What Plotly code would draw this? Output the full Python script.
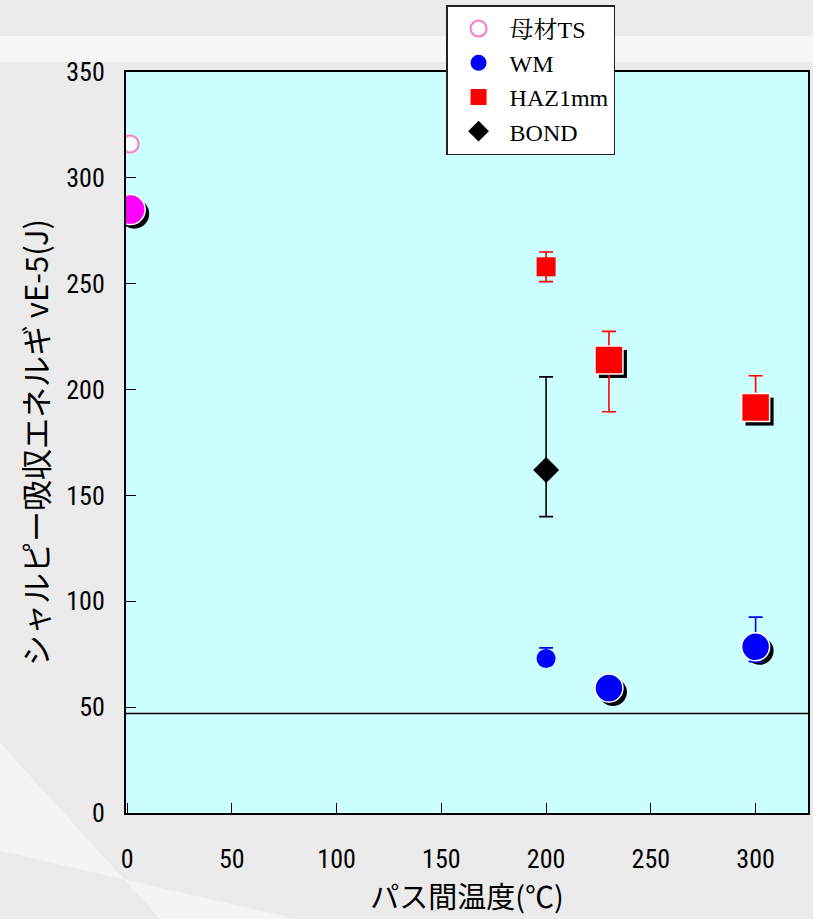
import plotly.graph_objects as go

# ---- data ----
ts_x = [1.5]
ts_y = [316]
ts_mean_x = [1.5]
ts_mean_y = [285]

wm_small_x = [200]
wm_small_y = [73]
wm_small_up = [5]
wm_small_dn = [0]
wm_big_x = [230, 300]
wm_big_y = [59, 78.5]
wm_big_up = [0, 14]
wm_big_dn = [0, 7]

haz_small_x = [200]
haz_small_y = [258]
haz_small_up = [7]
haz_small_dn = [7]
haz_big_x = [230, 300]
haz_big_y = [214, 191.5]
haz_big_up = [13.5, 15]
haz_big_dn = [24.5, 0]

bond_x = [200]
bond_y = [162]
bond_up = [44]
bond_dn = [22]

limit_y = 47

x_ticks = [0, 50, 100, 150, 200, 250, 300]
y_ticks = [0, 50, 100, 150, 200, 250, 300, 350]

SHX, SHY = 1.9, -1.9  # shadow offset in data units

fig = go.Figure()

def shadow(xs, ys, symbol, size):
    fig.add_trace(go.Scatter(
        x=[v + SHX for v in xs], y=[v + SHY for v in ys], mode="markers",
        marker=dict(symbol=symbol, size=size, color="black", line=dict(width=0)),
        showlegend=False, hoverinfo="skip"))

# shadows
shadow(ts_mean_x, ts_mean_y, "circle", 30)
shadow(wm_big_x, wm_big_y, "circle", 28)
shadow(haz_big_x, haz_big_y, "square", 28)

def errs(up, dn, color):
    return dict(type="data", symmetric=False, array=up, arrayminus=dn,
                color=color, thickness=1.6, width=7)

# BOND
fig.add_trace(go.Scatter(
    x=bond_x, y=bond_y, mode="markers", name="BOND",
    marker=dict(symbol="diamond", size=20, color="black"),
    error_y=errs(bond_up, bond_dn, "black")))

# HAZ
fig.add_trace(go.Scatter(
    x=haz_small_x, y=haz_small_y, mode="markers", name="HAZ1mm",
    marker=dict(symbol="square", size=19, color="red", line=dict(width=0)),
    error_y=errs(haz_small_up, haz_small_dn, "red")))
fig.add_trace(go.Scatter(
    x=haz_big_x, y=haz_big_y, mode="markers", name="HAZ1mm", showlegend=False,
    marker=dict(symbol="square", size=28, color="red", line=dict(width=1.5, color="white")),
    error_y=errs(haz_big_up, haz_big_dn, "red")))

# WM
fig.add_trace(go.Scatter(
    x=wm_small_x, y=wm_small_y, mode="markers", name="WM",
    marker=dict(symbol="circle", size=19, color="blue", line=dict(width=0)),
    error_y=errs(wm_small_up, wm_small_dn, "blue")))
fig.add_trace(go.Scatter(
    x=wm_big_x, y=wm_big_y, mode="markers", name="WM", showlegend=False,
    marker=dict(symbol="circle", size=28, color="blue", line=dict(width=1.5, color="white")),
    error_y=errs(wm_big_up, wm_big_dn, "blue")))

# base metal
fig.add_trace(go.Scatter(
    x=ts_mean_x, y=ts_mean_y, mode="markers", showlegend=False,
    marker=dict(symbol="circle", size=30, color="#ff00ff", line=dict(width=1.5, color="white"))))
fig.add_trace(go.Scatter(
    x=ts_x, y=ts_y, mode="markers", name="母材TS",
    marker=dict(symbol="circle", size=17, color="white", line=dict(width=2, color="#ff77cc"))))

# reference line
fig.add_shape(type="line", xref="paper", x0=0, x1=1, yref="y", y0=limit_y, y1=limit_y,
              line=dict(color="black", width=1.5))

# background decorations (paper)
fig.add_shape(type="rect", xref="paper", yref="paper", x0=-0.2, x1=1.1,
              y0=1 + (72 - 62) / 741, y1=1 + (72 - 36) / 741,
              fillcolor="#f6f6f6", line=dict(width=0), layer="below")
fig.add_shape(type="path", xref="paper", yref="paper",
              path="M -0.19,-0.05 L 0.25,-0.143 L 0.05,-0.143 L -0.19,0.1 Z",
              fillcolor="#f4f4f4", line=dict(width=0), layer="below")

tickfont = dict(family="Liberation Sans Narrow, Roboto Condensed, Arial Narrow, Liberation Sans, sans-serif",
                size=26, color="black")
titlefont_y = dict(family="Noto Sans CJK JP, sans-serif", size=31, color="black")
titlefont_x = dict(family="Noto Sans CJK JP, sans-serif", size=29, color="black")

fig.update_layout(
    width=813, height=919,
    margin=dict(l=126, r=3, t=72, b=106),
    paper_bgcolor="#ebebeb",
    plot_bgcolor="#ccffff",
    showlegend=True,
    legend=dict(
        x=(447 - 126) / 684, y=1 + (72 - 5) / 741, xanchor="left", yanchor="top",
        bgcolor="white", bordercolor="#222", borderwidth=1.5,
        font=dict(family="Liberation Serif, Times New Roman, Noto Serif CJK JP, serif", size=24, color="black"),
        traceorder="reversed", itemwidth=52, tracegroupgap=0,
    ),
    xaxis=dict(
        range=[-0.5, 325], tickvals=x_ticks, ticktext=[str(v) for v in x_ticks],
        ticks="inside", ticklen=10, tickwidth=1, tickcolor="black",
        showline=True, linecolor="black", linewidth=2, mirror=True,
        showgrid=False, zeroline=False, tickfont=tickfont, ticklabelstandoff=22,
        title=dict(text="パス間温度(℃)", font=titlefont_x, standoff=9),
    ),
    yaxis=dict(
        range=[0, 350], tickvals=y_ticks, ticktext=[str(v) for v in y_ticks],
        ticks="inside", ticklen=10, tickwidth=1, tickcolor="black",
        showline=True, linecolor="black", linewidth=2, mirror=True,
        showgrid=False, zeroline=False, tickfont=tickfont, ticklabelstandoff=14,
        title=dict(text="シャルピー吸収エネルギ vE-5(J)", font=titlefont_y, standoff=8),
    ),
)

fig.write_html("out.html", config={"displayModeBar": False},
               post_script="document.body.style.margin='0';document.body.style.background='#ebebeb';")
